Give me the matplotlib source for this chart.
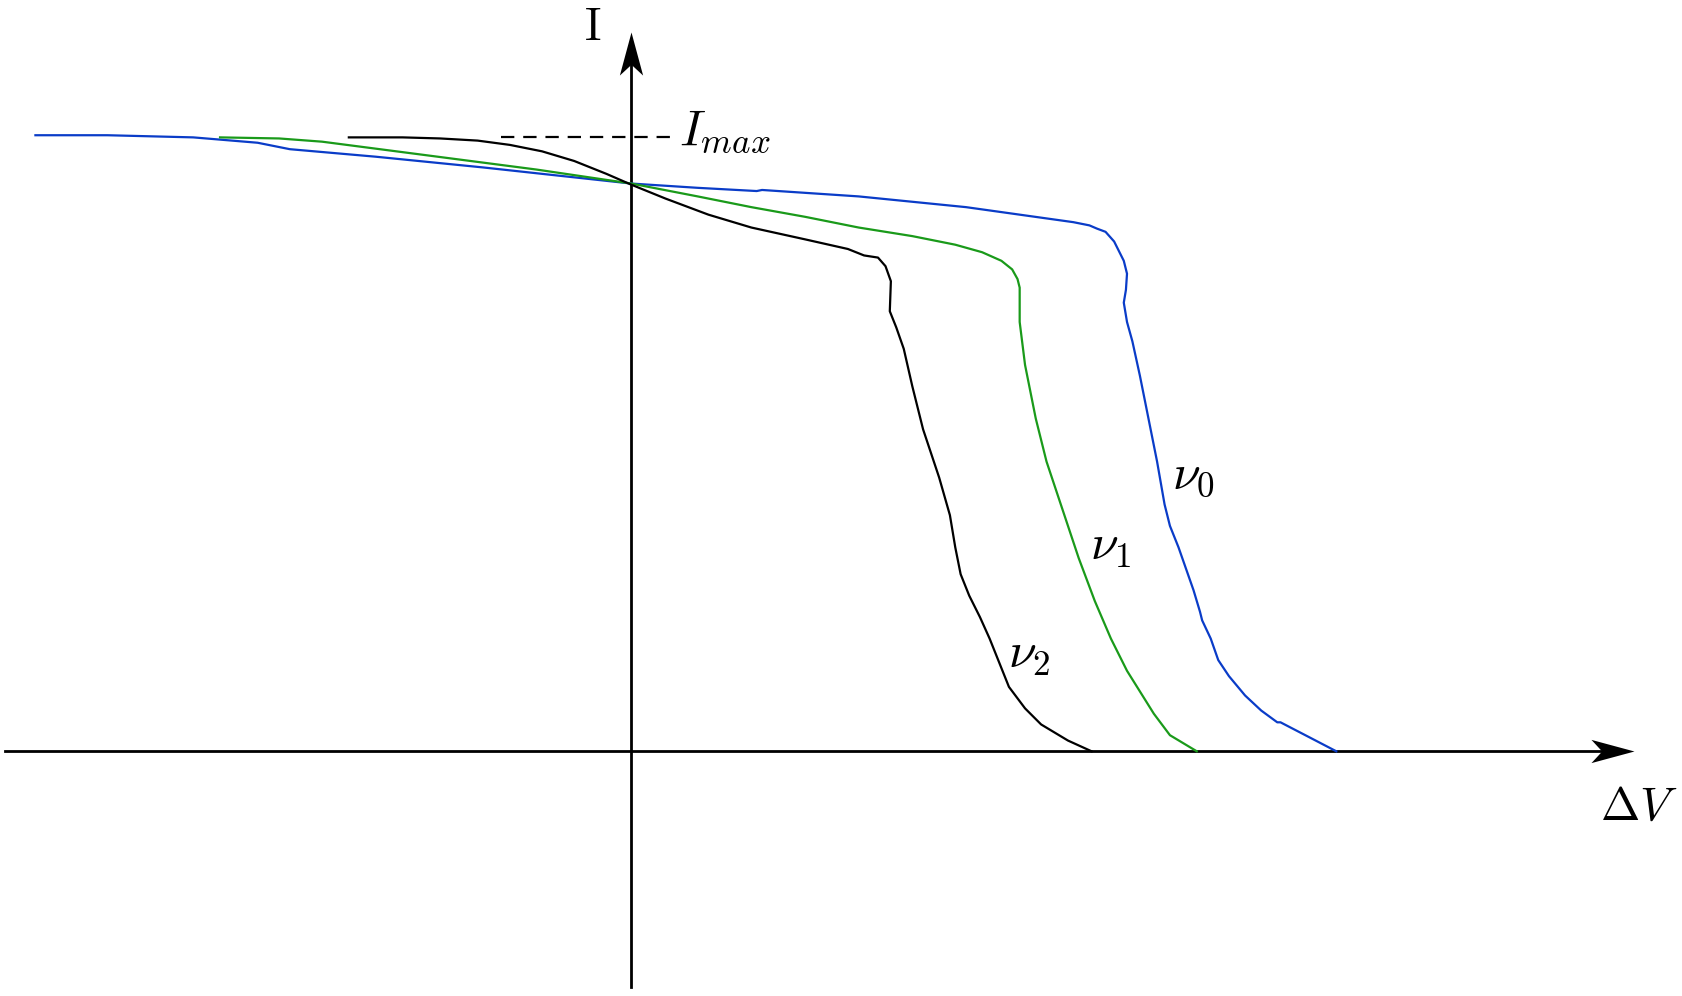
import matplotlib
matplotlib.use("Agg")
import matplotlib.pyplot as plt
from matplotlib.path import Path
import numpy as np

plt.rcParams['mathtext.fontset'] = 'cm'

# I-V curves for three frequencies (nu0 > nu1 > nu2), arbitrary units
dv_nu0 = [-555, -488, -408, -348, -318, -238, -138, 0, 62, 117, 122, 212, 312, 412, 427,
          434, 442, 450, 459, 462, 461, 459, 462, 467, 474, 482, 490, 497, 502, 510, 517,
          524, 530, 532, 540, 547, 557, 572, 587, 602, 605, 632, 657]
i_nu0 = [574, 574, 572, 567, 561, 554, 544, 529, 525, 522, 523, 517, 507, 493, 490,
         487, 484, 475, 457, 445, 430, 418, 400, 382, 350, 310, 270, 230, 210, 190, 170,
         150, 130, 122, 105, 85, 70, 52, 38, 27, 27, 13, 0]

dv_nu1 = [-383, -328, -288, -188, -88, 0, 62, 112, 162, 212, 262, 302, 327, 345, 355,
          360, 362, 362, 362, 367, 377, 387, 402, 417, 432, 447, 462, 487, 502, 527]
i_nu1 = [572, 571, 568, 555, 542, 529, 517, 507, 498, 488, 480, 472, 465, 457, 449,
         440, 432, 420, 400, 360, 310, 270, 225, 180, 140, 105, 75, 35, 15, 0]

dv_nu2 = [-263, -213, -178, -143, -113, -83, -53, -23, 0, 32, 72, 112, 162, 202, 217,
          230, 237, 242, 241, 247, 254, 262, 272, 287, 297, 302, 307, 315, 325, 334,
          342, 352, 367, 382, 407, 429]
i_nu2 = [572, 572, 571, 569, 565, 559, 550, 538, 528, 515, 500, 488, 477, 468, 462,
         460, 452, 438, 410, 395, 375, 340, 300, 255, 220, 190, 165, 145, 125, 105,
         85, 60, 40, 25, 10, 0]

i_max = 572
labels = [r'$\nu_0$', r'$\nu_1$', r'$\nu_2$']
colors = ['#0a3cc8', '#1a9a1a', 'black']

fig = plt.figure(figsize=(16.83, 9.96), dpi=100)
ax = fig.add_axes([0, 0, 1, 1])
ax.set_xlim(-588, 980)
ax.set_ylim(-228, 700)
ax.axis('off')

# axes with stealth arrow heads
ax.plot([-583, 915], [0, 0], color='black', lw=2)
ax.plot([0, 0], [-220, 650], color='black', lw=2)
head_r = Path([(0, 0), (-1, 0.27), (-0.75, 0), (-1, -0.27), (0, 0)],
              [Path.MOVETO, Path.LINETO, Path.LINETO, Path.LINETO, Path.CLOSEPOLY])
head_u = Path([(0, 0), (0.27, -1), (0, -0.75), (-0.27, -1), (0, 0)],
              [Path.MOVETO, Path.LINETO, Path.LINETO, Path.LINETO, Path.CLOSEPOLY])
ax.plot(934, 0, marker=head_r, markersize=62, color='black', markeredgewidth=0)
ax.plot(0, 670, marker=head_u, markersize=62, color='black', markeredgewidth=0)

# curves
for dv, cur, c in zip([dv_nu0, dv_nu1, dv_nu2], [i_nu0, i_nu1, i_nu2], colors):
    ax.plot(dv, cur, color=c, lw=1.6, solid_joinstyle='round')

# I_max
ax.plot([-121, 37], [i_max, i_max], color='black', lw=1.6, dashes=(6, 4))
ax.text(45, i_max + 6, r'$I_{max}$', fontsize=36, ha='left', va='center')

# labels
ax.text(-36, 674, r'$\mathrm{I}$', fontsize=33, ha='center', va='center')
ax.text(939, -52, r'$\Delta V$', fontsize=34, ha='center', va='center')
ax.text(524, 257, labels[0], fontsize=36, ha='center', va='center')
ax.text(447, 191, labels[1], fontsize=36, ha='center', va='center')
ax.text(371, 91, labels[2], fontsize=36, ha='center', va='center')

fig.savefig('out.png', dpi=100)
